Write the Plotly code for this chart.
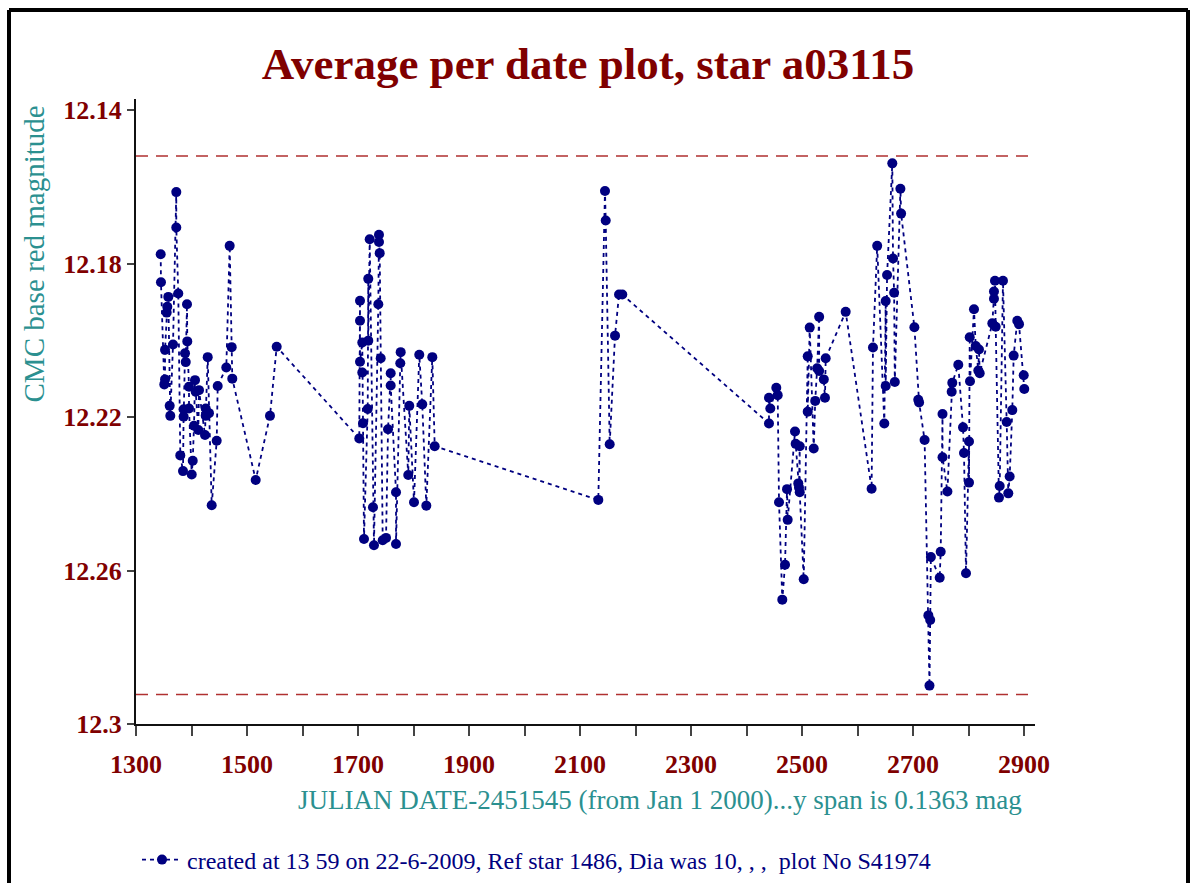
import numpy as np
import plotly.graph_objects as go

# Julian date - 2451545 and CMC red magnitude
jd = [
    1344.5, 1345.0, 1351.0, 1352.3, 1352.3, 1355.3, 1356.4, 1358.2, 1360.7, 1361.8,
    1366.7, 1372.6, 1372.6, 1376.2, 1379.8, 1384.7, 1385.9, 1385.9, 1388.3, 1389.6,
    1391.9, 1392.4, 1395.5, 1395.5, 1400.4, 1402.2, 1404.5, 1406.3, 1407.6, 1412.3,
    1413.5, 1424.3, 1425.6, 1425.6, 1429.2, 1431.5, 1436.4, 1445.4, 1447.2, 1462.7,
    1468.8, 1472.4, 1473.5, 1515.7, 1541.4, 1553.5,
    1702.3, 1703.6, 1703.6, 1703.6, 1707.7, 1707.7, 1709.0, 1710.8, 1717.5, 1718.5,
    1718.5, 1721.1, 1727.0, 1728.8, 1736.6, 1737.8, 1737.8, 1739.1, 1740.9, 1744.5,
    1750.5, 1754.1, 1758.9, 1758.9, 1768.5, 1768.5, 1776.2, 1776.9, 1790.6, 1792.4,
    1800.9, 1810.4, 1815.8, 1823.1, 1833.9, 1838.2,
    2133.0, 2145.0, 2146.3, 2153.5, 2163.1, 2170.3, 2176.2,
    2440.5, 2440.5, 2442.9, 2453.7, 2456.2, 2458.6, 2464.5, 2469.4, 2473.0, 2474.2,
    2487.4, 2488.6, 2493.3, 2494.6, 2495.9, 2495.9, 2503.1, 2510.3, 2510.3, 2513.9,
    2521.1, 2523.8, 2527.3, 2530.9, 2530.9, 2539.3, 2541.4, 2542.7, 2578.7,
    2625.4, 2627.9, 2635.5, 2648.3, 2650.8, 2650.8, 2653.3, 2662.7, 2664.0, 2666.0,
    2667.2, 2677.3, 2678.6, 2702.5, 2709.5, 2711.0, 2720.9, 2727.7, 2729.7, 2731.0,
    2732.2, 2748.1, 2749.9, 2753.2, 2753.2, 2762.0, 2769.7, 2770.8, 2781.6, 2790.1,
    2791.9, 2795.5, 2800.9, 2800.9, 2802.2, 2802.7, 2809.9, 2813.0, 2817.7, 2818.9,
    2820.2, 2842.9, 2845.9, 2845.9, 2847.7, 2849.0, 2854.9, 2856.2, 2862.1, 2868.8,
    2871.7, 2874.2, 2878.9, 2881.4, 2887.9, 2891.0, 2899.5, 2900.5,
]
mag = [
    12.1776, 12.1849, 12.2115, 12.2102, 12.2025, 12.1928, 12.1913, 12.1887, 12.2171, 12.2197,
    12.2011, 12.1614, 12.1706, 12.1878, 12.2300, 12.2341, 12.2180, 12.2199, 12.2034, 12.2057,
    12.1906, 12.2003, 12.2121, 12.2178, 12.2350, 12.2314, 12.2223, 12.2104, 12.2134, 12.2234,
    12.2130, 12.2247, 12.2178, 12.2197, 12.2044, 12.2190, 12.2430, 12.2262, 12.2119, 12.2071,
    12.1754, 12.2018, 12.2100, 12.2364, 12.2197, 12.2017,
    12.2256, 12.1897, 12.1949, 12.2056, 12.2006, 12.2084, 12.2216, 12.2518, 12.2179, 12.1840,
    12.2001, 12.1737, 12.2435, 12.2534, 12.1906, 12.1725, 12.1744, 12.1773, 12.2047, 12.2521,
    12.2515, 12.2232, 12.2086, 12.2118, 12.2396, 12.2531, 12.2060, 12.2031, 12.2351, 12.2171,
    12.2422, 12.2038, 12.2167, 12.2431, 12.2044, 12.2276,
    12.2416, 12.1611, 12.1688, 12.2271, 12.1988, 12.1881, 12.1881,
    12.2217, 12.2150, 12.2178, 12.2124, 12.2143, 12.2422, 12.2676, 12.2585, 12.2388, 12.2468,
    12.2238, 12.2270, 12.2373, 12.2384, 12.2276, 12.2396, 12.2623, 12.2042, 12.2186, 12.1967,
    12.2282, 12.2158, 12.2073, 12.1939, 12.2080, 12.2102, 12.2150, 12.2047, 12.1926,
    12.2387, 12.2019, 12.1754, 12.2217, 12.1898, 12.2119, 12.1830, 12.1539, 12.1787, 12.1876,
    12.2109, 12.1605, 12.1670, 12.1966, 12.2155, 12.2162, 12.2260, 12.2717, 12.2900, 12.2729,
    12.2565, 12.2619, 12.2551, 12.2192, 12.2305, 12.2394, 12.2134, 12.2111, 12.2064, 12.2227,
    12.2294, 12.2607, 12.2264, 12.2371, 12.1992, 12.2107, 12.1919, 12.2015, 12.2079, 12.2024,
    12.2086, 12.1956, 12.1873, 12.1892, 12.1845, 12.1965, 12.2410, 12.2380, 12.1845, 12.2213,
    12.2399, 12.2355, 12.2182, 12.2040, 12.1949, 12.1958, 12.2091, 12.2127,
]

limit_lines = [12.152, 12.2923]
x_tick_labels = [1300, 1500, 1700, 1900, 2100, 2300, 2500, 2700, 2900]
x_minor_ticks = [1400, 1600, 1800, 2000, 2200, 2400, 2600, 2800]
y_tick_vals = [12.14, 12.18, 12.22, 12.26, 12.3]
y_tick_text = ["12.14", "12.18", "12.22", "12.26", "12.3"]

title_text = "Average per date plot, star a03115"
x_title = "JULIAN DATE-2451545 (from Jan 1 2000)...y span is 0.1363 mag"
y_title = "CMC base red magnitude"
series_name = "created at 13 59 on 22-6-2009, Ref star 1486, Dia was 10, , ,  plot No S41974"

order = np.argsort(np.array(jd), kind="stable")
xs = np.array(jd)[order]
ys = np.array(mag)[order]

W, H = 1190, 883
L, R, T, B = 136, 155, 99, 159
pw, ph = W - L - R, H - T - B


def px_x(p):
    return (p - L) / pw


def px_y(p):
    return (H - B - p) / ph


NAVY = "#000080"
DARKRED = "#800000"
TEAL = "#2B9090"
SERIF = "Liberation Serif"

fig = go.Figure()
fig.add_trace(go.Scatter(
    x=xs, y=ys, mode="lines+markers", name=series_name,
    line=dict(color=NAVY, width=1.8, dash="4px,4px"),
    marker=dict(color=NAVY, size=10),
))

for v in limit_lines:
    fig.add_shape(type="line", xref="paper", x0=0, x1=1, yref="y", y0=v, y1=v,
                  line=dict(color="#B03030", width=1.5, dash="12px,8px"))

# page frame
frame = dict(color="black", width=4)
fig.add_shape(type="line", xref="paper", yref="paper", x0=px_x(9), x1=px_x(1188),
              y0=px_y(10), y1=px_y(10), line=frame)
fig.add_shape(type="line", xref="paper", yref="paper", x0=px_x(9), x1=px_x(9),
              y0=px_y(10), y1=px_y(900), line=frame)
fig.add_shape(type="line", xref="paper", yref="paper", x0=px_x(1188), x1=px_x(1188),
              y0=px_y(10), y1=px_y(900), line=frame)

fig.add_annotation(text=x_title, xref="paper", yref="paper", x=px_x(1024), y=px_y(800),
                   xanchor="right", yanchor="middle", showarrow=False,
                   font=dict(family=SERIF, size=27, color=TEAL))
fig.add_annotation(text=y_title, xref="paper", yref="paper", x=px_x(33), y=px_y(104),
                   xanchor="center", yanchor="top", textangle=-90, showarrow=False,
                   font=dict(family=SERIF, size=29, color=TEAL))

fig.update_layout(
    width=W, height=H,
    margin=dict(l=L, r=R, t=T, b=B, autoexpand=False),
    paper_bgcolor="white", plot_bgcolor="white",
    title=dict(text=title_text, x=588 / W, xanchor="center", y=1 - 63 / H, yanchor="middle",
               font=dict(family=SERIF, size=45, color=DARKRED, weight="bold")),
    showlegend=True,
    legend=dict(orientation="h", x=px_x(137), xanchor="left", y=px_y(860), yanchor="middle",
                itemwidth=40,
                font=dict(family=SERIF, size=24, color=NAVY), bgcolor="rgba(0,0,0,0)"),
    xaxis=dict(range=[1300, 2900 + 11 / 0.555], tickvals=x_tick_labels,
               ticks="outside", ticklen=10, tickwidth=1.5, tickcolor="#444",
               showline=True, linecolor="#111", linewidth=2, showgrid=False, zeroline=False,
               ticklabelstandoff=6,
               tickfont=dict(family=SERIF, size=26, color=DARKRED, weight="bold"),
               minor=dict(tickvals=x_minor_ticks, ticks="outside", ticklen=10, tickwidth=1.5,
                          tickcolor="#444", showgrid=False)),
    yaxis=dict(range=[12.3, 12.14 - 11 / 3837.5], tickvals=y_tick_vals, ticktext=y_tick_text,
               ticks="outside", ticklen=7, tickwidth=1.5, tickcolor="#444",
               showline=True, linecolor="#111", linewidth=2, showgrid=False, zeroline=False,
               ticklabelstandoff=0,
               tickfont=dict(family=SERIF, size=26, color=DARKRED, weight="bold")),
)

fig.write_html("out.html", config={"displayModeBar": False},
               post_script="document.body.style.margin='0';")
